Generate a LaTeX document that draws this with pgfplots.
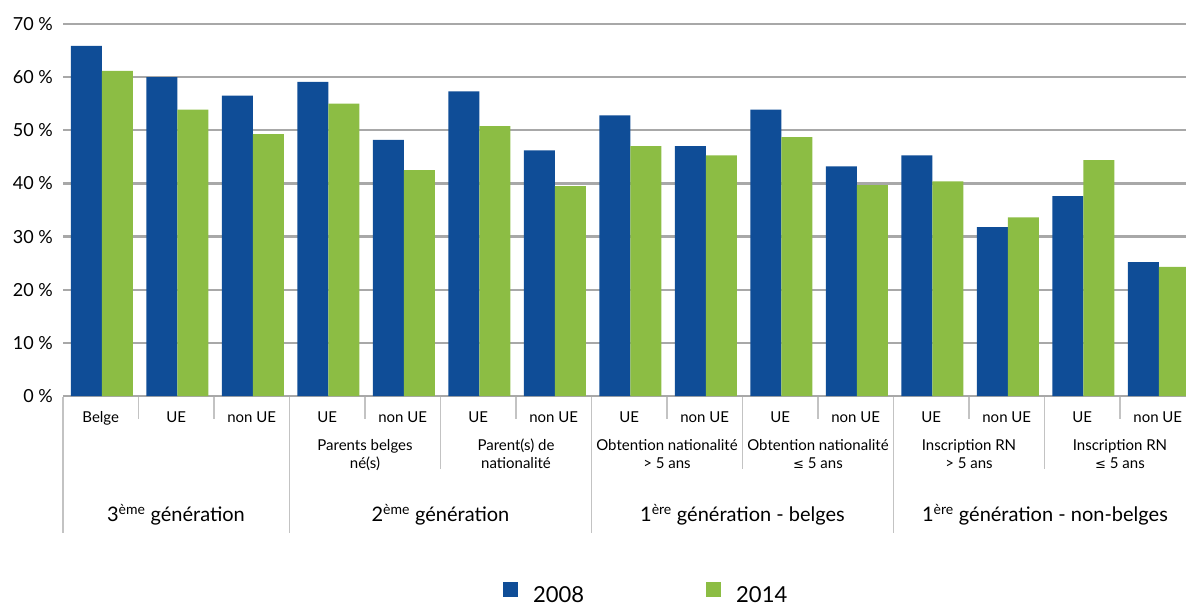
\documentclass[border=0pt]{standalone}
\usepackage{pgfplots}
\pgfplotsset{compat=1.18}
\usepackage{fontspec}
\setmainfont{Lato}
\newfontfamily\symfont{DejaVu Sans}
\definecolor{cblue}{RGB}{15,77,151}
\definecolor{cgreen}{RGB}{140,189,68}
\definecolor{cgrid}{RGB}{168,168,168}
\definecolor{csep}{RGB}{195,195,195}
\begin{document}
\begin{tikzpicture}[x=1pt,y=1pt]
\useasboundingbox (0,0) rectangle (1186,605);
\begin{axis}[
  at={(63pt,209pt)}, anchor=south west,
  scale only axis, width=1123pt, height=372pt,
  xmin=-0.5, xmax=14.374, ymin=0, ymax=70,
  ybar=0pt, bar width=31pt,
  axis line style={draw=none},
  major tick length=0pt,
  ymajorgrids, grid style={cgrid, line width=2.2pt},
  ytick={0,10,...,70},
  yticklabel={\pgfmathprintnumber[assume math mode=true]{\tick} \%},
  yticklabel style={font=\fontsize{18}{20}\selectfont, anchor=east, inner sep=0pt, xshift=-10pt},
  xtick={0,...,14},
  xticklabels={Belge,UE,non UE,UE,non UE,UE,non UE,UE,non UE,UE,non UE,UE,non UE,UE,non UE},
  xticklabel style={font=\fontsize{15}{18}\selectfont, anchor=base, inner sep=0pt, yshift=-26pt},
  legend columns=2,
  legend image code/.code={\fill[#1] (0pt,-2pt) rectangle (15pt,13pt);},
  legend style={at={(0.3918,-0.5591)}, anchor=south west, draw=none, fill=none,
    inner sep=0pt, font=\fontsize{22}{24}\selectfont,
    nodes={inner sep=0pt},
    /tikz/every odd column/.style={column sep=15pt},
    /tikz/every even column/.style={column sep=122pt}},
]
\addplot+[fill=cblue, draw=none, bar shift=-14.5pt] coordinates {
(0,65.9) (1,60.0) (2,56.5) (3,59.1) (4,48.2) (5,57.3) (6,46.2) (7,52.8)
(8,47.0) (9,53.9) (10,43.2) (11,45.3) (12,31.8) (13,37.6) (14,25.2)};
\addplot+[fill=cgreen, draw=none, bar shift=16.5pt] coordinates {
(0,61.2) (1,53.9) (2,49.3) (3,55.0) (4,42.5) (5,50.8) (6,39.5) (7,47.0)
(8,45.3) (9,48.7) (10,39.7) (11,40.4) (12,33.6) (13,44.4) (14,24.3)};
\legend{2008,2014}
\end{axis}
% separators
\foreach \k/\e in {0/72,1/186,2/186,3/72,4/186,5/136,6/186,7/72,8/186,9/136,10/186,11/72,12/186,13/136,14/186}{
  \draw[csep, line width=1.5pt] ({63+\k*75.5},208) -- ({63+\k*75.5},\e);
}
% subgroup labels
\begin{scope}[every node/.style={font=\fontsize{15}{18}\selectfont, anchor=base, inner sep=0pt}]
\node at (365,154) {Parents belges};
\node at (365,136) {né(s)};
\node at (516,154) {Parent(s) de};
\node at (516,136) {nationalité};
\node at (667,154) {Obtention nationalité};
\node at (667,136) {> 5 ans};
\node at (818,154) {Obtention nationalité};
\node at (818,136) {{\symfont\fontsize{13}{15}\selectfont ≤} 5 ans};
\node at (969,154) {Inscription RN};
\node at (969,136) {> 5 ans};
\node at (1120,154) {Inscription RN};
\node at (1120,136) {{\symfont\fontsize{13}{15}\selectfont ≤} 5 ans};
\end{scope}
% group labels
\begin{scope}[every node/.style={font=\fontsize{20}{24}\selectfont, anchor=base, inner sep=0pt}]
\node at (176,83) {3\textsuperscript{ème} génération};
\node at (440.5,83) {2\textsuperscript{ème} génération};
\node at (742.5,83) {1\textsuperscript{ère} génération - belges};
\node at (1045,83) {1\textsuperscript{ère} génération - non-belges};
\end{scope}
\end{tikzpicture}
\end{document}
